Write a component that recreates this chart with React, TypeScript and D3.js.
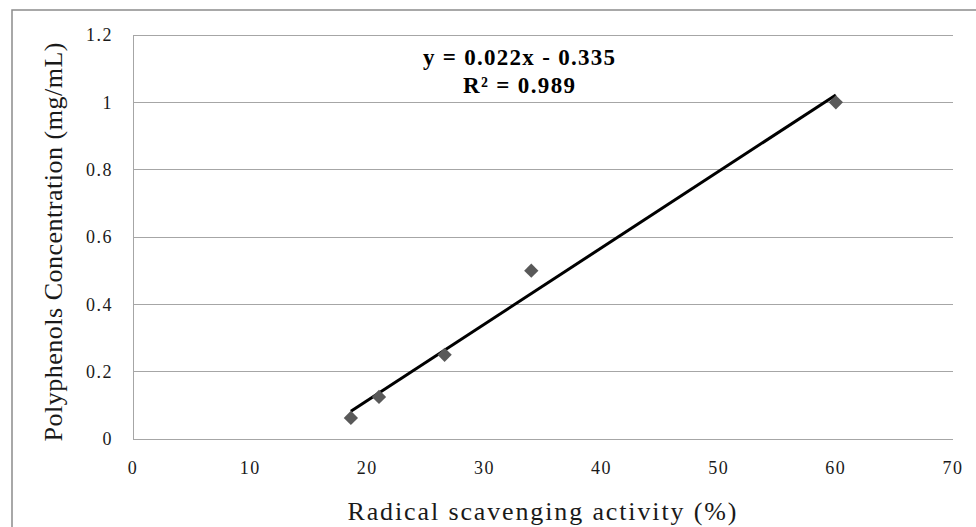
import * as d3 from "d3";

const W = 976;
const H = 527;

// radical scavenging activity (%) vs polyphenols concentration (mg/mL)
const activity = [18.6, 21, 26.6, 34, 60];
const concentration = [0.0625, 0.125, 0.25, 0.5, 1];
const xTicks = [0, 10, 20, 30, 40, 50, 60, 70];
const yTicks = [0, 0.2, 0.4, 0.6, 0.8, 1, 1.2];
const equationLines = ["y = 0.022x - 0.335", "R² = 0.989"];

const plotLeft = 133;
const plotRight = 953;
const plotTop = 35;
const plotBottom = 439;

const gridColor = "#a6a6a6";
const markerColor = "#595959";
const textColor = "#1a1a1a";
const font = "Liberation Serif, Times New Roman, DejaVu Serif, serif";

function App() {
    const xScale = d3.scaleLinear().domain([0, 70]).range([plotLeft, plotRight]);
    const yScale = d3.scaleLinear().domain([0, 1.2]).range([plotBottom, plotTop]);

    // least squares fit, drawn over the range of the data
    const mx = d3.mean(activity) as number;
    const my = d3.mean(concentration) as number;
    let sxy = 0;
    let sxx = 0;
    activity.forEach((x, i) => {
        sxy += (x - mx) * (concentration[i] - my);
        sxx += (x - mx) * (x - mx);
    });
    const slope = sxy / sxx;
    const intercept = my - slope * mx;
    const xExtent = d3.extent(activity) as [number, number];
    const trend = d3.line<number>()
        .x((x) => xScale(x))
        .y((x) => yScale(slope * x + intercept))(xExtent);

    const diamond = d3.symbol().type(d3.symbolDiamond2).size(130)();

    return (
        <svg width={W} height={H} style={{position: "absolute", left: 0, top: 0}}>
            <rect x={0} y={0} width={W} height={H} fill="white" />
            <rect x={12} y={10} width={W + 20} height={H + 20} fill="none" stroke="#8c8c8c" strokeWidth={1.5} />

            {yTicks.map((t) => (
                <line key={"g" + t} x1={plotLeft} x2={plotRight} y1={yScale(t)} y2={yScale(t)}
                      stroke={gridColor} strokeWidth={1} shapeRendering="crispEdges" />
            ))}
            <line x1={plotLeft} x2={plotLeft} y1={plotTop} y2={plotBottom} stroke={gridColor}
                  strokeWidth={1} shapeRendering="crispEdges" />

            <g style={{fontFamily: font, letterSpacing: "1.5px"}} fontSize={18} fill={textColor}>
                {yTicks.map((t) => (
                    <text key={"yl" + t} x={plotLeft - 20} y={yScale(t)} dy="0.35em" textAnchor="end">
                        {d3.format("~g")(t)}
                    </text>
                ))}
                {xTicks.map((t) => (
                    <text key={"xl" + t} x={xScale(t)} y={plotBottom + 29} dy="0.35em" textAnchor="middle">
                        {t}
                    </text>
                ))}
            </g>

            <path d={trend as string} fill="none" stroke="#000" strokeWidth={3} />

            {activity.map((x, i) => (
                <path key={"p" + i} d={diamond as string}
                      transform={`translate(${xScale(x)},${yScale(concentration[i])})`}
                      fill={markerColor} />
            ))}

            <g style={{fontFamily: font}} fontWeight="bold" fontSize={23} fill="#000" textAnchor="middle">
                <text x={519} y={65} textLength={192} lengthAdjust="spacing">{equationLines[0]}</text>
                <text x={519} y={93} textLength={112} lengthAdjust="spacing">{equationLines[1]}</text>
            </g>

            <text x={542} y={520} textAnchor="middle" style={{fontFamily: font}} fontSize={26} fill={textColor}
                  textLength={389} lengthAdjust="spacing">
                Radical scavenging activity (%)
            </text>
            <text transform={`translate(62, 242) rotate(-90)`} textAnchor="middle" style={{fontFamily: font}}
                  fontSize={26} fill={textColor} textLength={399} lengthAdjust="spacing">
                Polyphenols Concentration (mg/mL)
            </text>
        </svg>
    );
}

export default App;
